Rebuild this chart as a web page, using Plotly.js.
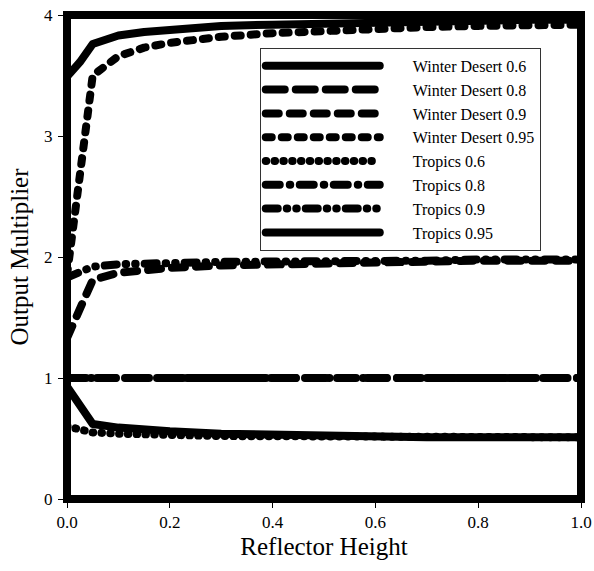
<!DOCTYPE html>
<html><head><meta charset="utf-8">
<script src="https://cdn.plot.ly/plotly-3.0.1.min.js"></script>
<style>
html,body{margin:0;padding:0;background:#fff;}
#chart{width:594px;height:571px;}
.js-line{stroke-linecap:round;stroke-linejoin:round;}
</style></head><body><div id="chart"></div>
<script>
// Reflector height (x values)
const reflectorHeight = [0, 0.025, 0.05, 0.1, 0.15, 0.2, 0.3, 0.4, 0.5, 0.6, 0.7, 0.8, 0.9, 1.0];

// Series names
const seriesNames = ["Winter Desert 0.6", "Winter Desert 0.8", "Winter Desert 0.9", "Winter Desert 0.95",
                     "Tropics 0.6", "Tropics 0.8", "Tropics 0.9", "Tropics 0.95"];

// Output multiplier values
const winterDesert06  = [0.93, 0.78, 0.62, 0.59, 0.57, 0.56, 0.54, 0.53, 0.52, 0.52, 0.51, 0.51, 0.51, 0.51];
const winterDesert08  = [1.00, 1.00, 1.00, 1.00, 1.00, 1.00, 1.00, 1.00, 1.00, 1.00, 1.00, 1.00, 1.00, 1.00];
const winterDesert09  = [1.33, 1.57, 1.81, 1.87, 1.89, 1.91, 1.93, 1.94, 1.95, 1.96, 1.96, 1.97, 1.97, 1.97];
const winterDesert095 = [1.85, 2.72, 3.50, 3.66, 3.73, 3.77, 3.82, 3.85, 3.87, 3.89, 3.90, 3.91, 3.92, 3.92];
const tropics06       = [0.60, 0.57, 0.55, 0.54, 0.53, 0.53, 0.52, 0.52, 0.51, 0.51, 0.51, 0.51, 0.51, 0.51];
const tropics08       = [1.00, 1.00, 1.00, 1.00, 1.00, 1.00, 1.00, 1.00, 1.00, 1.00, 1.00, 1.00, 1.00, 1.00];
const tropics09       = [1.83, 1.87, 1.92, 1.94, 1.95, 1.95, 1.96, 1.96, 1.97, 1.97, 1.97, 1.98, 1.98, 1.98];
const tropics095      = [3.49, 3.61, 3.76, 3.83, 3.86, 3.88, 3.91, 3.92, 3.93, 3.94, 3.95, 3.95, 3.96, 3.96];

const seriesValues = [winterDesert06, winterDesert08, winterDesert09, winterDesert095,
                      tropics06, tropics08, tropics09, tropics095];

// Tick labels
const xTickVals = [0, 0.2, 0.4, 0.6, 0.8, 1.0];
const xTickText = ["0.0", "0.2", "0.4", "0.6", "0.8", "1.0"];
const yTickVals = [0, 1, 2, 3, 4];
const yTickText = ["0", "1", "2", "3", "4"];

// dash styles (with round caps)
const dashStyles = ["solid", "19px,11px", "13px,11px", "6px,10px",
                    "0.5px,8.3px", "14px,10px,0.5px,9.5px", "12px,9px,0.5px,9px,0.5px,9px", "solid"];

const font = "'Liberation Serif', 'Times New Roman', serif";
const gap = "\u2003\u2002\u00a0";

const traces = seriesValues.map((vals, i) => ({
  type: "scatter", mode: "lines",
  x: reflectorHeight, y: vals, name: gap + seriesNames[i],
  line: {color: "#000", width: 8, dash: dashStyles[i]}
}));

const layout = {
  width: 594, height: 571,
  margin: {l: 67, r: 13, t: 15, b: 72},
  paper_bgcolor: "#fff", plot_bgcolor: "#fff",
  font: {family: font, color: "#000", size: 17},
  showlegend: true,
  legend: {x: 0.375, y: 0.932, xanchor: "left", yanchor: "top",
           bgcolor: "#fff", bordercolor: "#333", borderwidth: 1,
           font: {family: font, size: 16, color: "#000"},
           itemwidth: 114, traceorder: "normal", tracegroupgap: 0},
  xaxis: {range: [0, 1], tickmode: "array", tickvals: xTickVals, ticktext: xTickText,
          showgrid: false, zeroline: false, showline: false,
          ticks: "outside", ticklen: 8, tickwidth: 1, tickcolor: "#000",
          ticklabelstandoff: 0,
          tickfont: {family: font, size: 17, color: "#000"},
          title: {text: "Reflector Height", font: {family: font, size: 25, color: "#000"}, standoff: 6}},
  yaxis: {range: [0, 4], tickmode: "array", tickvals: yTickVals, ticktext: yTickText,
          showgrid: false, zeroline: false, showline: false,
          ticks: "outside", ticklen: 8, tickwidth: 1, tickcolor: "#000",
          ticklabelstandoff: 2,
          tickfont: {family: font, size: 17, color: "#000"},
          title: {text: "Output Multiplier", font: {family: font, size: 25, color: "#000"}, standoff: 8}},
  shapes: [{type: "rect", xref: "paper", yref: "paper", x0: 0, x1: 1, y0: 0, y1: 1,
            line: {color: "#000", width: 8}, layer: "above"}]
};

Plotly.newPlot("chart", traces, layout, {displayModeBar: false, staticPlot: true});
</script></body></html>
